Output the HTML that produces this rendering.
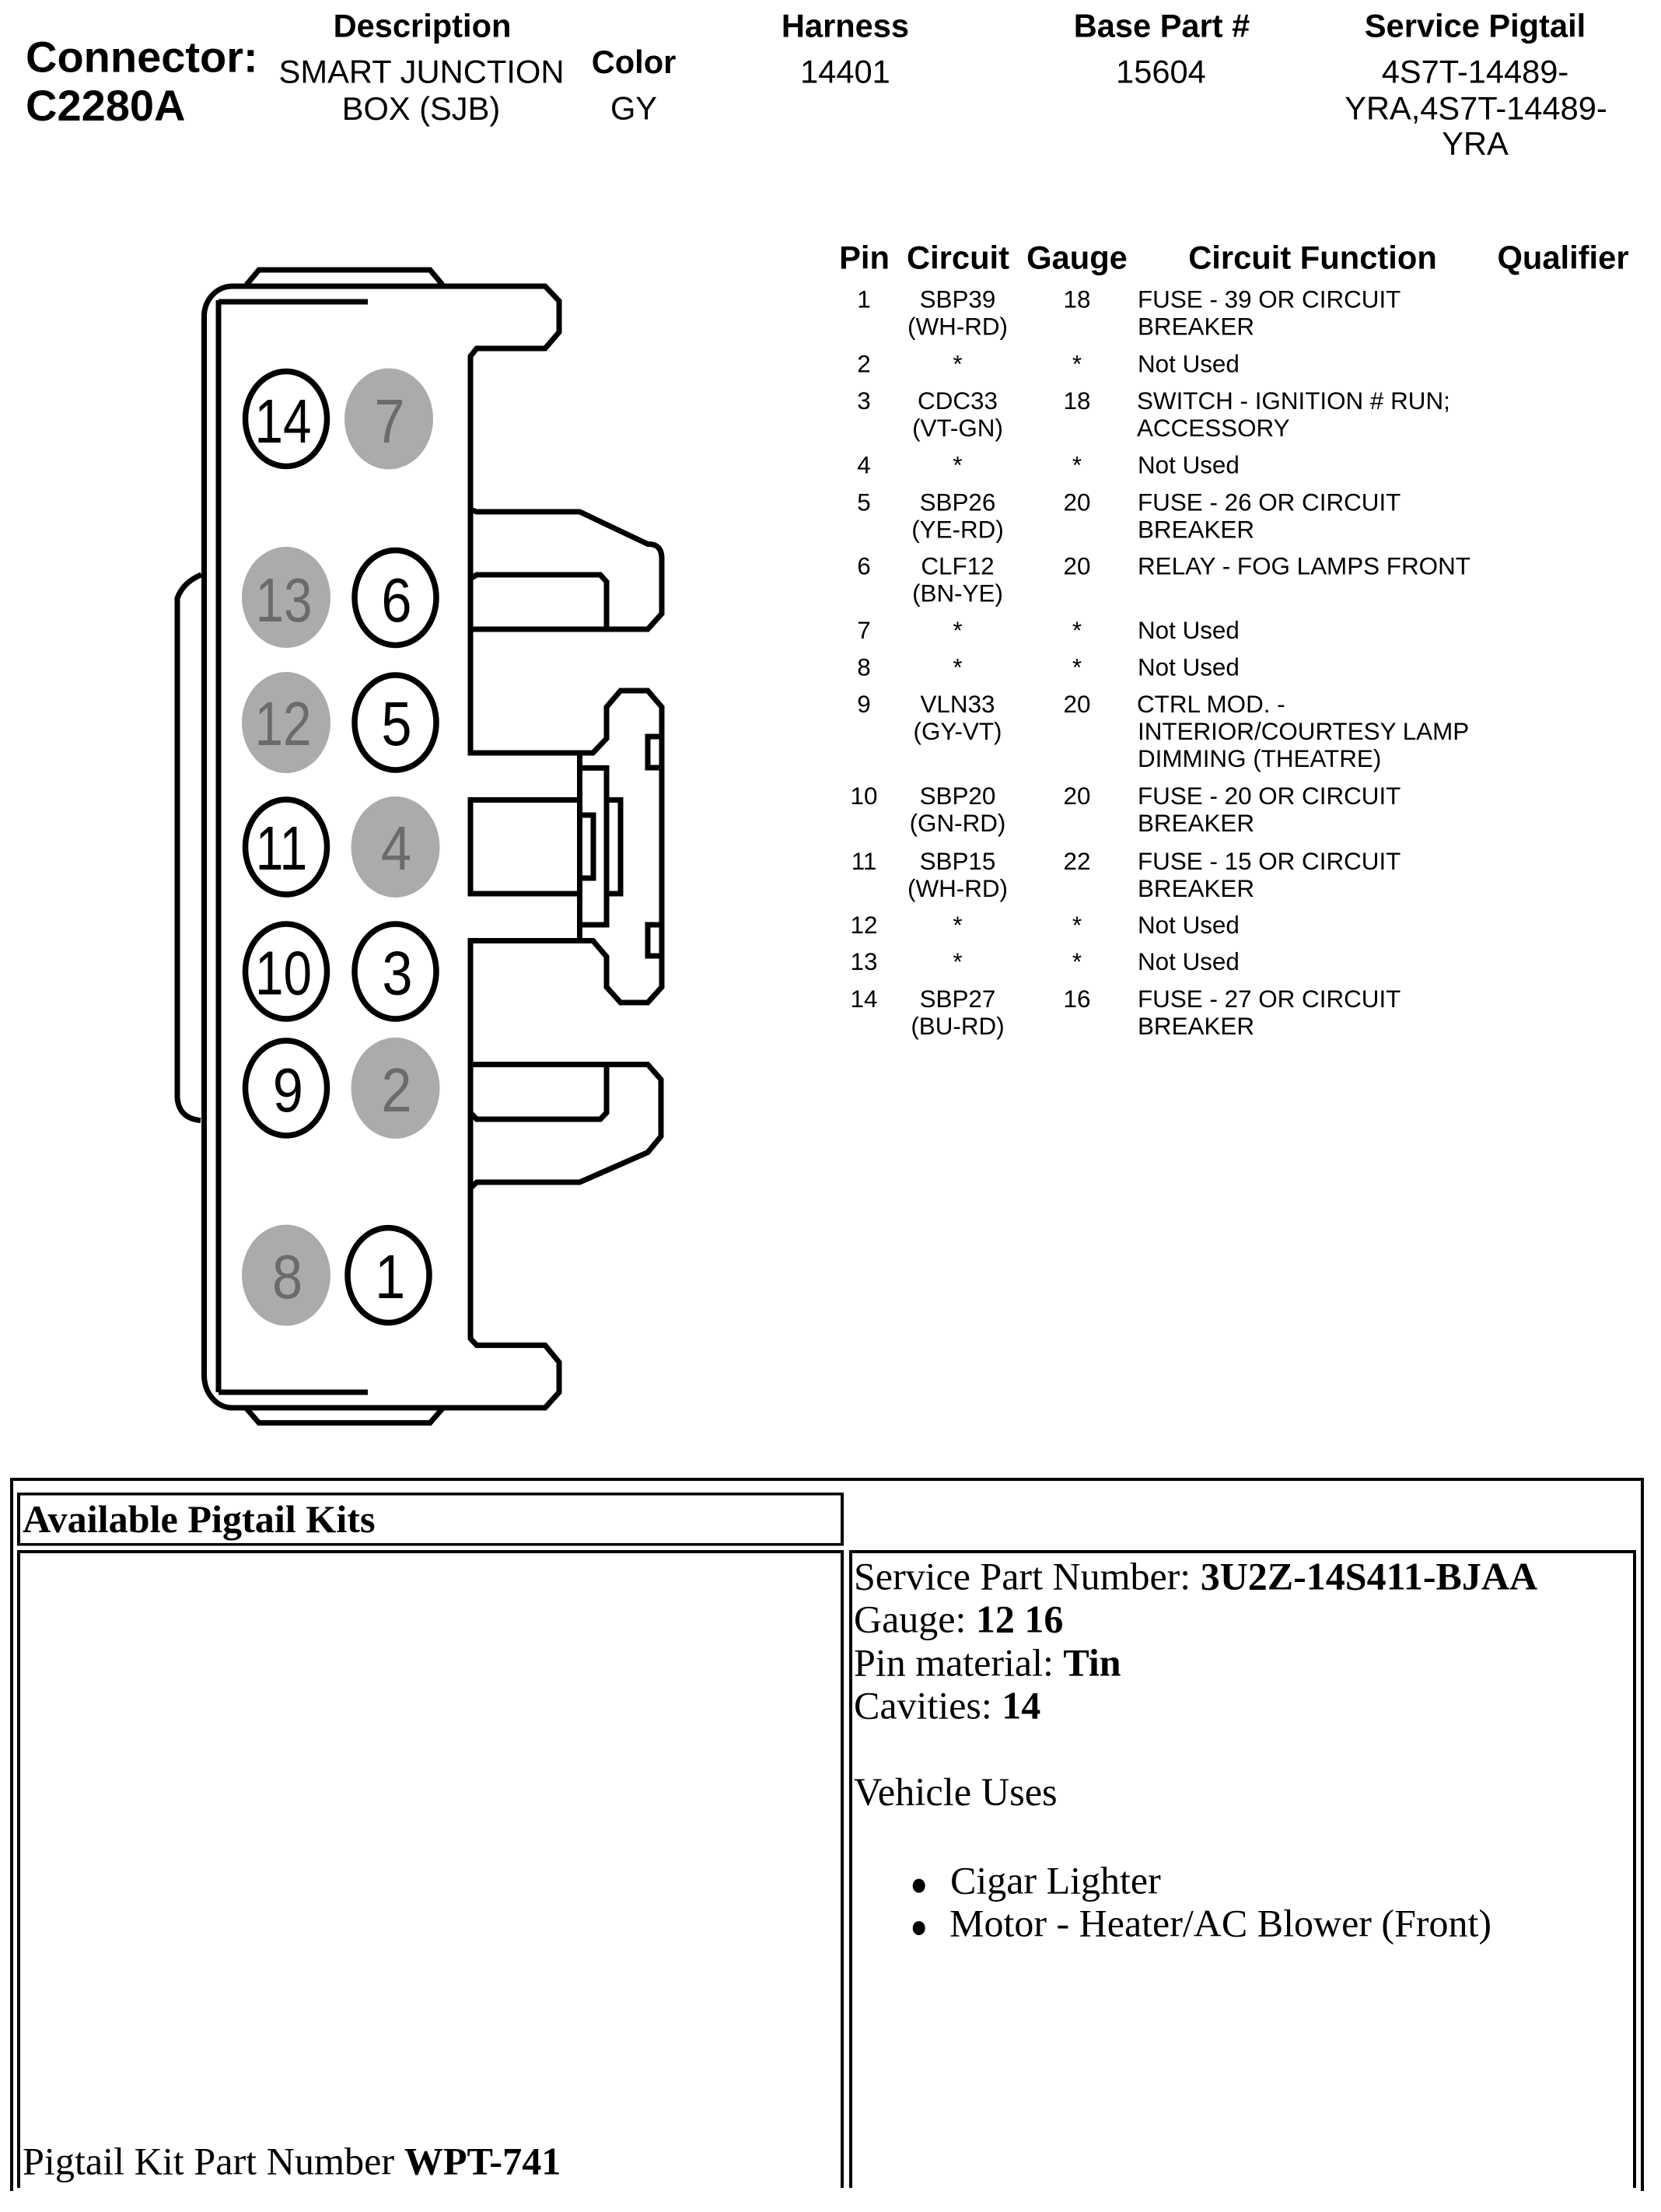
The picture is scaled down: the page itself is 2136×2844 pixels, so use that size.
<!DOCTYPE html>
<html>
<head>
<meta charset="utf-8">
<style>
html,body{margin:0;padding:0;background:#fff;width:2136px;height:2844px;overflow:hidden}
svg{display:block}
.s{font-family:"Liberation Sans",Arial,sans-serif;fill:#000}
.b{font-weight:bold}
.h{font-size:41.6px}
.th{font-size:41.7px;font-weight:bold}
.t{font-size:31.4px}
.m{text-anchor:middle}
.d{font-family:"Liberation Sans",Arial,sans-serif;font-size:80px;text-anchor:middle;fill:#000}
.g{fill:#6b6b6b}
.r{font-family:"Liberation Serif","Times New Roman",serif;font-size:50px;fill:#000}
.l{fill:none;stroke:#000;stroke-width:7;stroke-linejoin:miter}
.c{fill:#fff;stroke:#000;stroke-width:7.5}
.f{fill:#ababab}
</style>
</head>
<body>
<svg xmlns="http://www.w3.org/2000/svg" width="2136" height="2844" viewBox="0 0 2136 2844">
<rect width="2136" height="2844" fill="#fff"/>

<!-- header -->
<g class="s h">
<text x="33" y="92.7" class="s b" style="font-size:56px">Connector:</text>
<text x="33" y="155" class="s b" style="font-size:56px">C2280A</text>
<text x="543" y="47.7" class="s b h m">Description</text>
<text x="542" y="106.7" class="s h m" textLength="367" lengthAdjust="spacingAndGlyphs">SMART JUNCTION</text>
<text x="541.5" y="154" class="s h m">BOX (SJB)</text>
<text x="815" y="94" class="s b h m">Color</text>
<text x="815" y="153.3" class="s h m">GY</text>
<text x="1087" y="47.7" class="s b h m">Harness</text>
<text x="1087" y="106.7" class="s h m">14401</text>
<text x="1494" y="47.7" class="s b h m">Base Part #</text>
<text x="1493" y="106.7" class="s h m">15604</text>
<text x="1897" y="47.7" class="s b h m">Service Pigtail</text>
<text x="1897" y="106.7" class="s h m">4S7T-14489-</text>
<text x="1898" y="153.3" class="s h m">YRA,4S7T-14489-</text>
<text x="1897" y="199" class="s h m">YRA</text>
</g>

<!-- pin table header -->
<text x="1111.5" y="345.7" class="s th m">Pin</text>
<text x="1232" y="345.7" class="s th m">Circuit</text>
<text x="1385" y="345.7" class="s th m">Gauge</text>
<text x="1688" y="345.7" class="s th m">Circuit Function</text>
<text x="2010" y="345.7" class="s th m">Qualifier</text>

<!-- pin table rows -->
<g class="s t">
<text x="1111" y="395.7" class="s t m">1</text><text x="1231.5" y="395.7" class="s t m">SBP39</text><text x="1385" y="395.7" class="s t m">18</text><text x="1463" y="395.7" class="s t">FUSE - 39 OR CIRCUIT</text>
<text x="1231.5" y="430.7" class="s t m">(WH-RD)</text><text x="1463" y="430.7" class="s t">BREAKER</text>

<text x="1111" y="478.3" class="s t m">2</text><text x="1231.5" y="478.3" class="s t m">*</text><text x="1385" y="478.3" class="s t m">*</text><text x="1463" y="478.3" class="s t">Not Used</text>

<text x="1111" y="526" class="s t m">3</text><text x="1231.5" y="526" class="s t m">CDC33</text><text x="1385" y="526" class="s t m">18</text><text x="1462" y="526" class="s t">SWITCH - IGNITION # RUN;</text>
<text x="1231.5" y="561" class="s t m">(VT-GN)</text><text x="1462" y="561" class="s t">ACCESSORY</text>

<text x="1111" y="608.3" class="s t m">4</text><text x="1231.5" y="608.3" class="s t m">*</text><text x="1385" y="608.3" class="s t m">*</text><text x="1463" y="608.3" class="s t">Not Used</text>

<text x="1111" y="656.7" class="s t m">5</text><text x="1231.5" y="656.7" class="s t m">SBP26</text><text x="1385" y="656.7" class="s t m">20</text><text x="1463" y="656.7" class="s t">FUSE - 26 OR CIRCUIT</text>
<text x="1231.5" y="691.7" class="s t m">(YE-RD)</text><text x="1463" y="691.7" class="s t">BREAKER</text>

<text x="1111" y="738.3" class="s t m">6</text><text x="1231.5" y="738.3" class="s t m">CLF12</text><text x="1385" y="738.3" class="s t m">20</text><text x="1463" y="738.3" class="s t">RELAY - FOG LAMPS FRONT</text>
<text x="1231.5" y="773.3" class="s t m">(BN-YE)</text>

<text x="1111" y="821" class="s t m">7</text><text x="1231.5" y="821" class="s t m">*</text><text x="1385" y="821" class="s t m">*</text><text x="1463" y="821" class="s t">Not Used</text>

<text x="1111" y="868.5" class="s t m">8</text><text x="1231.5" y="868.5" class="s t m">*</text><text x="1385" y="868.5" class="s t m">*</text><text x="1463" y="868.5" class="s t">Not Used</text>

<text x="1111" y="916" class="s t m">9</text><text x="1231.5" y="916" class="s t m">VLN33</text><text x="1385" y="916" class="s t m">20</text><text x="1462" y="916" class="s t">CTRL MOD. -</text>
<text x="1231.5" y="951" class="s t m">(GY-VT)</text><text x="1463" y="951" class="s t">INTERIOR/COURTESY LAMP</text>
<text x="1463" y="986" class="s t">DIMMING (THEATRE)</text>

<text x="1111" y="1034" class="s t m">10</text><text x="1231.5" y="1034" class="s t m">SBP20</text><text x="1385" y="1034" class="s t m">20</text><text x="1463" y="1034" class="s t">FUSE - 20 OR CIRCUIT</text>
<text x="1231.5" y="1069" class="s t m">(GN-RD)</text><text x="1463" y="1069" class="s t">BREAKER</text>

<text x="1111" y="1118" class="s t m">11</text><text x="1231.5" y="1118" class="s t m">SBP15</text><text x="1385" y="1118" class="s t m">22</text><text x="1463" y="1118" class="s t">FUSE - 15 OR CIRCUIT</text>
<text x="1231.5" y="1153" class="s t m">(WH-RD)</text><text x="1463" y="1153" class="s t">BREAKER</text>

<text x="1111" y="1200" class="s t m">12</text><text x="1231.5" y="1200" class="s t m">*</text><text x="1385" y="1200" class="s t m">*</text><text x="1463" y="1200" class="s t">Not Used</text>

<text x="1111" y="1247" class="s t m">13</text><text x="1231.5" y="1247" class="s t m">*</text><text x="1385" y="1247" class="s t m">*</text><text x="1463" y="1247" class="s t">Not Used</text>

<text x="1111" y="1295" class="s t m">14</text><text x="1231.5" y="1295" class="s t m">SBP27</text><text x="1385" y="1295" class="s t m">16</text><text x="1463" y="1295" class="s t">FUSE - 27 OR CIRCUIT</text>
<text x="1231.5" y="1330" class="s t m">(BU-RD)</text><text x="1463" y="1330" class="s t">BREAKER</text>
</g>

<!-- connector drawing -->
<g class="l">
<!-- top and bottom tabs -->
<path d="M317 366 L333 347 H553 L569 366"/>
<path d="M317 1811 L333 1829.4 H553 L569 1811"/>
<!-- main outer contour -->
<path d="M605 1209.5 H762.5 L780 1230 V1269 L798 1289 H833 L851 1269 V909 L833 888 H798 L780 909 V949.5 L762.5 968 H605 V458 L613 448 H701 L719 427 V387 L701 368 H298 A36 39 0 0 0 262.5 407 V1768 A36 42 0 0 0 298 1810 H701 L719 1790 V1751.5 L701 1729.6 H613 L605 1721 V1209.5 Z"/>
<!-- inner lines -->
<path d="M281 386 V1790"/>
<path d="M281 388 H473"/>
<path d="M281 1790 H473"/>
<!-- left bump -->
<path d="M259 739 Q236 748 228 769 V1411 Q230 1438 258 1440.5"/>
<!-- upper clip -->
<path d="M605 655 L613 658 H745.5 L833 699.5 Q851 699 851 718 V789 L833 809 H605"/>
<path d="M605 744 L613 739 H772 L780 748 V809"/>
<!-- lower clip -->
<path d="M605 1368.6 H833 L850 1388 V1461 L833 1481.6 L745.5 1520 H613 L605 1527.7"/>
<path d="M780 1368.6 V1430.6 L772 1439 H613 L605 1430.6"/>
<!-- center latch -->
<path d="M745.5 968 V1209.5"/>
<path d="M745.5 1028.5 H605 V1149 H745.5"/>
<path d="M745.5 987.4 H780 V1189 H745.5"/>
<path d="M745.5 1048 H763 V1129 H745.5"/>
<path d="M780 1028.5 H798 V1149 H780"/>
<path d="M850 947 H833 V987 H850"/>
<path d="M850 1189 H833 V1229 H850"/>
</g>

<!-- cavities -->
<ellipse class="c" cx="368" cy="538.5" rx="52.5" ry="61"/>
<ellipse class="f" cx="500" cy="538.5" rx="57" ry="65"/>
<ellipse class="f" cx="368" cy="768" rx="57" ry="65"/>
<ellipse class="c" cx="508.5" cy="768.5" rx="52.5" ry="61"/>
<ellipse class="f" cx="368" cy="929" rx="57" ry="65"/>
<ellipse class="c" cx="508.5" cy="929" rx="52.5" ry="61"/>
<ellipse class="c" cx="368" cy="1089" rx="52.5" ry="61"/>
<ellipse class="f" cx="508.5" cy="1089" rx="57" ry="65"/>
<ellipse class="c" cx="368" cy="1249" rx="52.5" ry="61"/>
<ellipse class="c" cx="508.5" cy="1249" rx="52.5" ry="61"/>
<ellipse class="c" cx="368" cy="1399" rx="52.5" ry="61"/>
<ellipse class="f" cx="508.5" cy="1399" rx="57" ry="65"/>
<ellipse class="f" cx="368" cy="1639.6" rx="57" ry="65"/>
<ellipse class="c" cx="499.5" cy="1639.6" rx="52.5" ry="61"/>

<g>
<text class="d" transform="translate(364,569) scale(.82,1)">14</text>
<text class="d g" transform="translate(501,569) scale(.88,1)">7</text>
<text class="d g" transform="translate(365,799) scale(.82,1)">13</text>
<text class="d" transform="translate(510,799) scale(.88,1)">6</text>
<text class="d g" transform="translate(364,958) scale(.82,1)">12</text>
<text class="d" transform="translate(510,958) scale(.88,1)">5</text>
<text class="d" transform="translate(362,1118) scale(.8,1)">11</text>
<text class="d g" transform="translate(509.4,1118) scale(.88,1)">4</text>
<text class="d" transform="translate(364.5,1278.7) scale(.82,1)">10</text>
<text class="d" transform="translate(511,1278.7) scale(.88,1)">3</text>
<text class="d" transform="translate(370.3,1429) scale(.88,1)">9</text>
<text class="d g" transform="translate(510,1429) scale(.88,1)">2</text>
<text class="d g" transform="translate(369.6,1669) scale(.88,1)">8</text>
<text class="d" transform="translate(501.7,1669) scale(.88,1)">1</text>
</g>

<!-- bottom table borders -->
<g fill="#000">
<rect x="13" y="1900" width="2101" height="4"/>
<rect x="13" y="1900" width="4" height="917"/>
<rect x="2110" y="1900" width="4" height="917"/>
<!-- available pigtail kits cell -->
<rect x="22" y="1919" width="1063" height="3.6"/>
<rect x="22" y="1984" width="1063" height="3.4"/>
<rect x="22" y="1919" width="4" height="68"/>
<rect x="1081" y="1919" width="4" height="68"/>
<!-- lower left cell -->
<rect x="22" y="1993" width="1063" height="4"/>
<rect x="22" y="1993" width="4" height="820"/>
<rect x="1081" y="1993" width="4" height="820"/>
<!-- lower right cell -->
<rect x="1092" y="1993" width="1012" height="4"/>
<rect x="1092" y="1993" width="4" height="820"/>
<rect x="2100" y="1993" width="4" height="820"/>
</g>

<!-- bottom table text -->
<text x="29" y="1970" class="r" font-weight="bold" style="font-size:50.2px">Available Pigtail Kits</text>
<text x="29" y="2795.7" class="r" style="font-size:50.2px">Pigtail Kit Part Number <tspan font-weight="bold">WPT-741</tspan></text>

<text x="1098" y="2043.6" class="r">Service Part Number: <tspan font-weight="bold">3U2Z-14S411-BJAA</tspan></text>
<text x="1098" y="2098.6" class="r">Gauge: <tspan font-weight="bold">12 16</tspan></text>
<text x="1098" y="2154.3" class="r">Pin material: <tspan font-weight="bold">Tin</tspan></text>
<text x="1098" y="2209.3" class="r">Cavities: <tspan font-weight="bold">14</tspan></text>
<text x="1098" y="2321" class="r" style="font-size:50.4px">Vehicle Uses</text>
<ellipse cx="1181.7" cy="2424.6" rx="8" ry="9" fill="#000"/>
<text x="1222" y="2434.6" class="r">Cigar Lighter</text>
<ellipse cx="1181.7" cy="2479" rx="8" ry="9" fill="#000"/>
<text x="1221" y="2489.6" class="r">Motor - Heater/AC Blower (Front)</text>
</svg>
</body>
</html>
